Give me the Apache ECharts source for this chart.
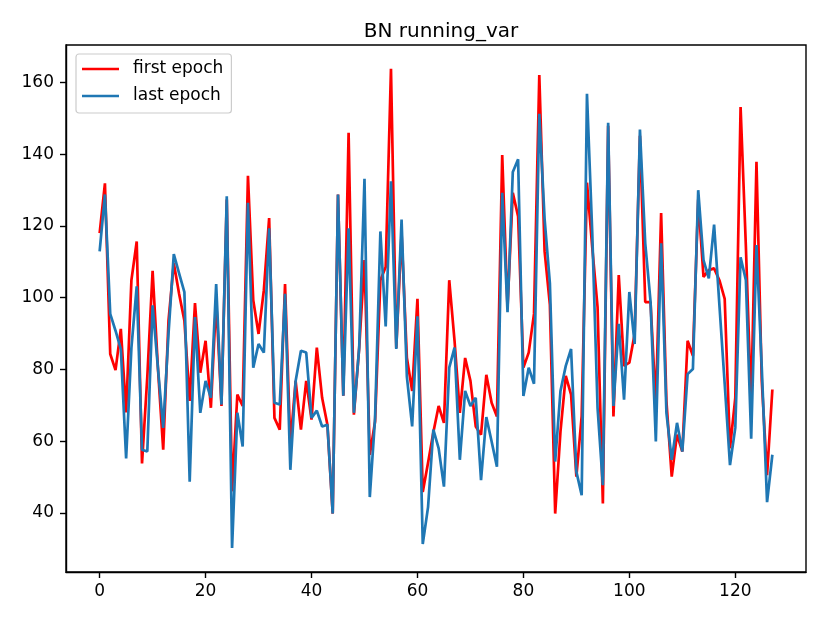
<!DOCTYPE html>
<html><head><meta charset="utf-8">
<script src="https://cdn.jsdelivr.net/npm/echarts@6/dist/echarts.min.js"></script>
<style>html,body{margin:0;padding:0;background:#fff}#c{width:830px;height:623px}</style>
</head><body><div id="c"></div>
<script>
const firstEpoch = [118.0,131.9,84.3,79.8,91.3,68.0,104.9,115.7,53.8,78.0,
107.5,80.5,57.6,93.6,109.6,101.1,93.6,71.2,98.5,79.1,
88.0,69.3,99.3,69.8,127.4,46.0,73.0,69.8,134.0,99.3,
89.9,102.1,122.2,66.5,63.2,103.8,59.0,76.8,63.2,76.8,
66.0,86.1,72.1,64.6,39.8,128.8,72.7,146.0,67.4,86.0,
110.5,56.2,65.5,104.9,108.6,163.9,86.0,118.0,83.3,74.0,
99.7,45.8,54.0,62.5,69.8,65.1,104.9,88.0,67.9,83.2,
76.8,64.1,61.8,78.5,70.7,66.9,139.8,97.2,129.3,122.7,
80.5,84.7,95.5,162.1,113.0,98.0,39.8,62.7,78.2,73.0,
50.1,67.0,132.1,114.0,97.4,42.6,148.0,66.9,106.3,81.0,
81.9,89.9,145.2,98.8,98.8,70.0,123.6,71.2,50.1,61.8,
57.1,88.0,83.8,127.4,105.8,107.7,108.2,104.9,99.7,58.0,
72.1,153.2,114.3,70.0,137.9,76.8,50.5,74.4];
const lastEpoch = [112.9,128.8,95.5,90.8,85.7,55.2,86.1,103.2,57.6,57.1,
97.9,80.5,63.7,89.9,112.2,106.8,101.6,48.7,94.6,67.9,
76.8,72.1,103.8,70.2,128.3,30.2,67.9,58.5,126.5,80.5,
87.1,84.7,119.4,70.7,70.2,101.1,52.0,76.8,85.2,84.7,
66.5,68.5,64.1,64.6,39.8,128.8,72.7,119.4,67.9,86.1,
133.2,44.4,66.5,118.5,92.0,132.5,85.7,121.8,78.0,64.1,
94.8,31.3,41.6,63.2,58.0,47.3,80.5,86.1,54.8,74.0,
69.8,72.1,49.1,66.7,59.9,52.9,129.3,96.0,135.1,138.6,
72.6,80.5,76.0,151.3,122.0,104.0,54.3,74.0,81.0,85.7,
51.5,44.9,156.9,118.0,69.3,47.7,148.8,69.8,92.7,71.6,
101.6,87.1,146.9,115.2,99.0,59.9,115.2,67.9,54.8,65.1,
57.1,78.7,80.1,130.0,110.5,105.4,120.4,98.0,76.0,53.3,
63.7,111.3,104.9,60.7,114.7,80.5,43.0,56.2];
const xTicks = [0,20,40,60,80,100,120];
const yTicks = [40,60,80,100,120,140,160];
const seriesNames = ['first epoch','last epoch'];

const toPairs = arr => arr.map((v,i)=>[i,v]);
const font = 'DejaVu Sans';
const chart = echarts.init(document.getElementById('c'), null, {renderer:'canvas'});
chart.setOption({
  animation:false,
  backgroundColor:'#ffffff',
  title:{text:'BN running_var', left:436, top:17, textAlign:'center',
    textStyle:{fontFamily:font, fontSize:20, fontWeight:'normal', color:'#000'}},
  legend:{
    data:seriesNames, orient:'vertical', left:76, top:54,
    icon:'rect', itemWidth:37, itemHeight:2.7, itemGap:7,
    padding:[5,8,7,6], borderColor:'#cccccc', borderWidth:1.2, borderRadius:3,
    backgroundColor:'rgba(255,255,255,0.8)',
    textStyle:{fontFamily:font, fontSize:17, color:'#000', lineHeight:20, padding:[0,0,0,9]}
  },
  grid:{left:66, right:24, top:45, bottom:51, show:true, borderColor:'#000', borderWidth:1.4, backgroundColor:'transparent'},
  xAxis:{type:'value', min:-6.35, max:133.35,
    axisLine:{show:true, onZero:false, lineStyle:{color:'#000', width:1.4}},
    axisTick:{show:true, customValues:xTicks, length:6, lineStyle:{color:'#000', width:1.4}},
    axisLabel:{customValues:xTicks, margin:11, fontFamily:font, fontSize:17, color:'#000',
      formatter:v=> (xTicks.indexOf(v)>=0 ? String(v) : '')},
    splitLine:{show:false}},
  yAxis:{type:'value', min:23.5, max:170.5,
    axisLine:{show:true, onZero:false, lineStyle:{color:'#000', width:1.4}},
    axisTick:{show:true, customValues:yTicks, length:6, lineStyle:{color:'#000', width:1.4}},
    axisLabel:{customValues:yTicks, margin:12, fontFamily:font, fontSize:17, color:'#000',
      formatter:v=> (yTicks.indexOf(v)>=0 ? String(v) : '')},
    splitLine:{show:false}},
  series:[
    {name:seriesNames[0], type:'line', data:toPairs(firstEpoch), symbol:'none', showSymbol:false,
      color:'#ff0000', lineStyle:{color:'#ff0000', width:2.7}, z:2},
    {name:seriesNames[1], type:'line', data:toPairs(lastEpoch), symbol:'none', showSymbol:false,
      color:'#1f77b4', lineStyle:{color:'#1f77b4', width:2.7}, z:3}
  ]
});
</script></body></html>
